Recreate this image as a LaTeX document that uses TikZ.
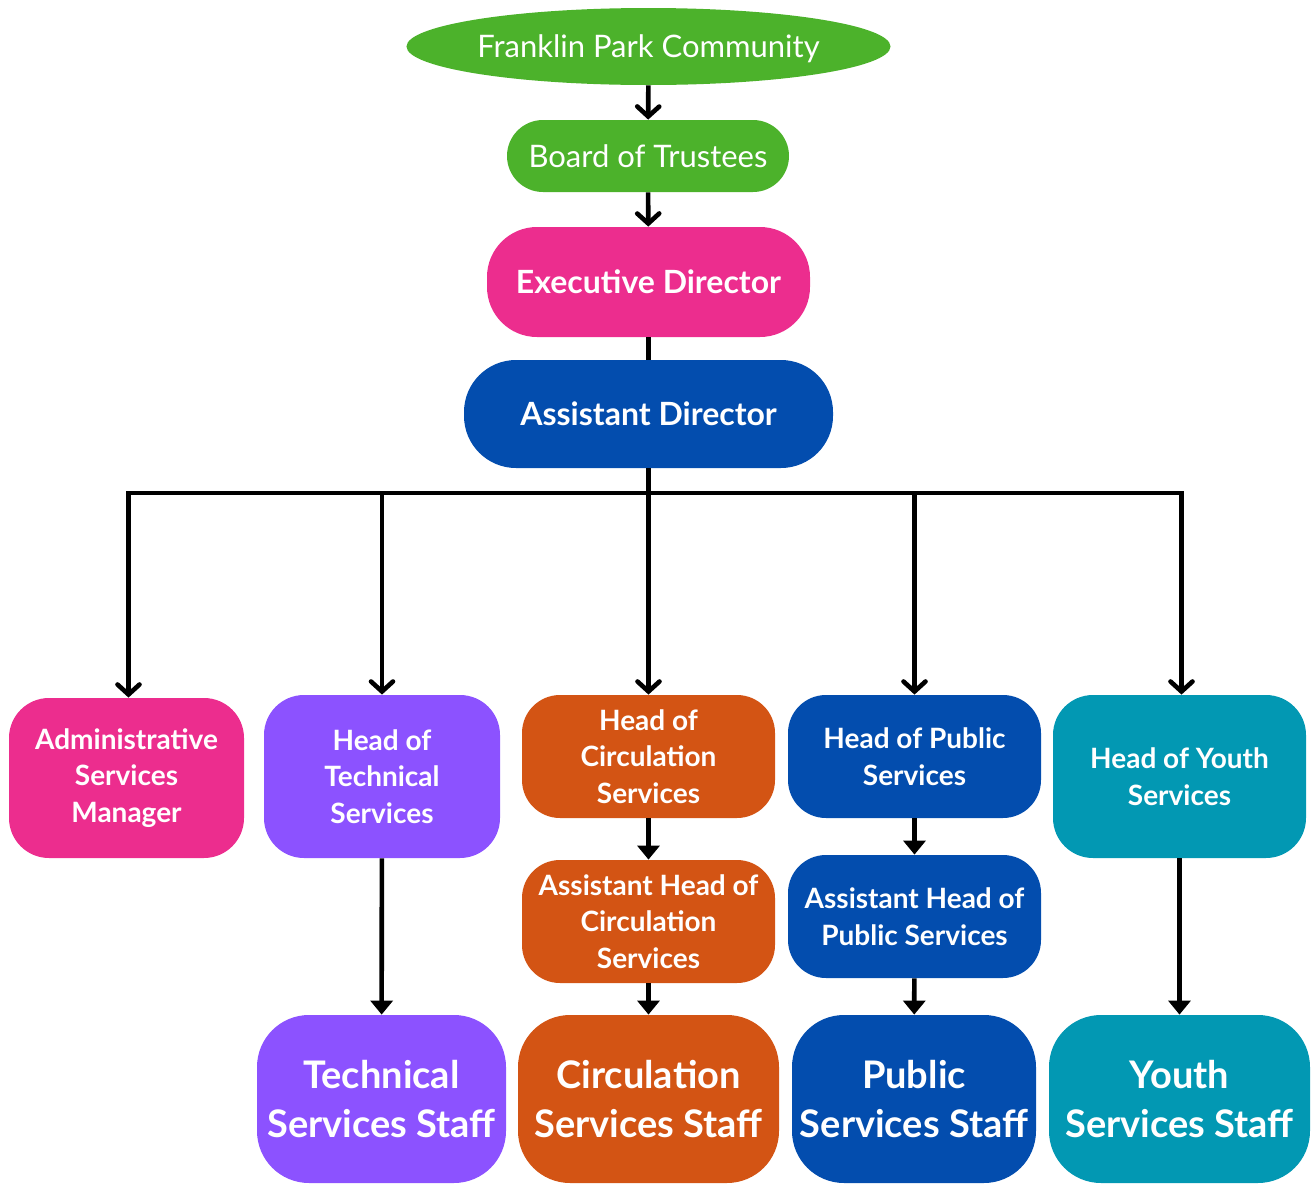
\documentclass[tikz,border=0pt]{standalone}
\usepackage{fontspec}
\setmainfont{Lato}
\usetikzlibrary{arrows.meta,shapes.geometric}
\definecolor{fpgreen}{HTML}{4CB22B}
\definecolor{fppink}{HTML}{EC2D8E}
\definecolor{fpblue}{HTML}{034DAE}
\definecolor{fppurple}{HTML}{8C52FF}
\definecolor{fporange}{HTML}{D35414}
\definecolor{fpteal}{HTML}{0298B3}

\begin{document}
\begin{tikzpicture}[x=0.5pt,y=-0.5pt]
	\tikzstyle{box}=[rectangle,text=white,align=center,inner sep=0pt,font=\bfseries\fontsize{14}{18.25}\selectfont]
	\tikzstyle{top}=[box,fill=fpgreen,text depth=0pt,font=\fontsize{15.5}{17}\selectfont]
	\tikzstyle{head}=[box,minimum width=126.5pt,minimum height=61.5pt,rounded corners=19pt]
	\tikzstyle{tall}=[box,minimum height=81.5pt,rounded corners=20pt]
	\tikzstyle{staff}=[box,minimum height=84pt,rounded corners=26pt,font=\bfseries\fontsize{19}{24.5}\selectfont]
	\tikzstyle{barb}=[line width=2.3pt,-{Straight Barb[length=5pt,width=11pt,line cap=round]}]
	\tikzstyle{flow}=[line width=2.3pt,-{Triangle[length=7pt,width=11pt]}]
	\tikzstyle{wire}=[line width=2.3pt]
	\useasboundingbox (0,0) rectangle (1314,1184);
	% top of the chart
	\node [top,ellipse,minimum width=238.5pt,minimum height=38.5pt] (community) at (648.5,46.5) {Franklin Park Community};
	\node [top,minimum width=141pt,minimum height=36pt,rounded corners=18pt] (board) at (648,156) {Board of Trustees};
	\node [box,fill=fppink,minimum width=161.5pt,minimum height=55pt,rounded corners=25pt,font=\bfseries\fontsize{16}{18}\selectfont] (exec) at (648.5,282) {Executive Director};
	\node [box,fill=fpblue,minimum width=184.5pt,minimum height=54pt,rounded corners=26pt,font=\bfseries\fontsize{16}{18}\selectfont] (asst) at (648.5,414) {Assistant Director};
	% departments
	\node [tall,fill=fppink,minimum width=117.5pt,minimum height=80pt] (admin) at (126.5,778) {Administrative\\Services\\Manager};
	\node [tall,fill=fppurple,minimum width=118pt] (headtech) at (382,776.5) {Head of\\Technical\\Services};
	\node [head,fill=fporange] (headcirc) at (648.5,756.5) {Head of\\Circulation\\Services};
	\node [head,fill=fpblue] (headpub) at (914.5,756.5) {Head of Public\\Services};
	\node [tall,fill=fpteal,minimum width=126.5pt] (headyouth) at (1179.5,776.5) {Head of Youth\\Services};
	\node [head,fill=fporange] (asstcirc) at (648.5,921.5) {Assistant Head of\\Circulation\\Services};
	\node [head,fill=fpblue] (asstpub) at (914.5,916.5) {Assistant Head of\\Public Services};
	% staff
	\node [staff,fill=fppurple,minimum width=124.5pt] (techstaff) at (381.5,1099) {Technical\\Services Staff};
	\node [staff,fill=fporange,minimum width=130.5pt] (circstaff) at (648.5,1099) {Circulation\\Services Staff};
	\node [staff,fill=fpblue,minimum width=122pt] (pubstaff) at (914,1099) {Public\\Services Staff};
	\node [staff,fill=fpteal,minimum width=130.5pt] (youthstaff) at (1179.5,1099) {Youth\\Services Staff};
	% connectors
	\coordinate (bus) at (648.5,493);
	\draw [barb] (community) -- (board);
	\draw [barb] (board) -- (exec);
	\draw [wire] (exec) -- (asst);
	\draw [wire] (asst) -- (bus);
	\draw [wire,line cap=rect] ([xshift=1pt]admin.north |- bus) -- ([xshift=1pt]headyouth.north |- bus);
	\foreach \dept/\dx in {admin/1pt,headtech/0pt,headcirc/0pt,headpub/0pt,headyouth/1pt}
		\draw [barb] ([xshift=\dx]\dept.north |- bus) -- ([xshift=\dx]\dept.north);
	\draw [flow] (headcirc) -- (asstcirc);
	\draw [flow] (headpub) -- (asstpub);
	\draw [flow] (headtech) -- (techstaff);
	\draw [flow] (asstcirc) -- (circstaff);
	\draw [flow] (asstpub) -- (pubstaff);
	\draw [flow] (headyouth) -- (youthstaff);
\end{tikzpicture}
\end{document}
